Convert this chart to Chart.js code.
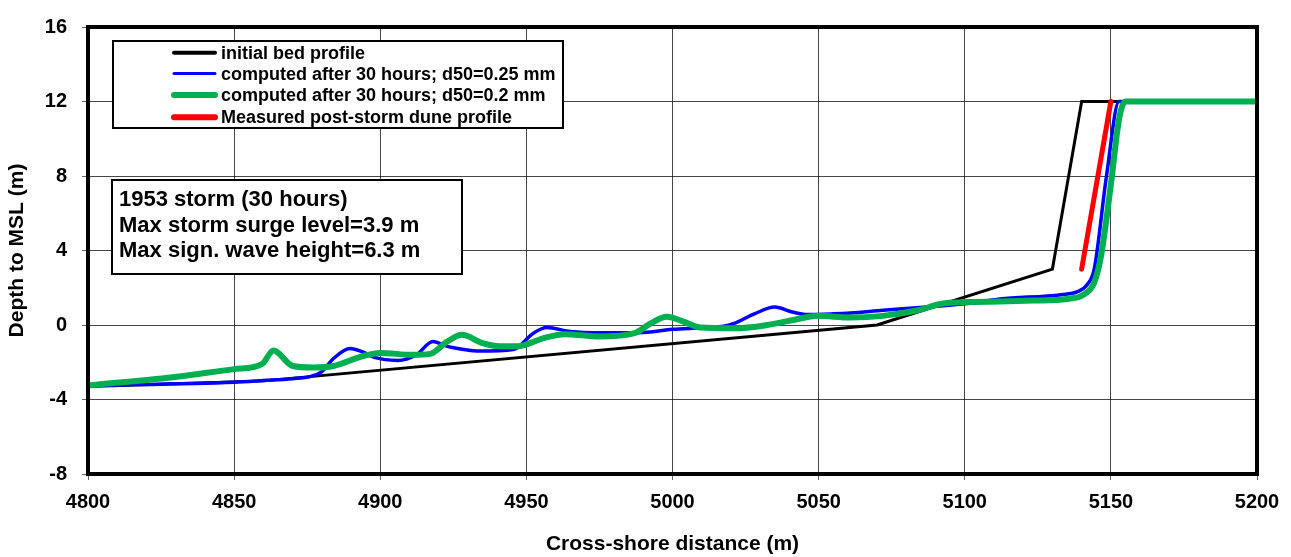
<!DOCTYPE html>
<html>
<head>
<meta charset="utf-8">
<script src="https://cdn.jsdelivr.net/npm/chart.js@4/dist/chart.umd.min.js"></script>
<style>
html,body{margin:0;padding:0;background:#fff;}
#wrap{width:1291px;height:557px;}
</style>
</head>
<body>
<div id="wrap"><canvas id="c" width="1291" height="557"></canvas></div>
<script>
// ---- data ----
const xTicks = [4800, 4850, 4900, 4950, 5000, 5050, 5100, 5150, 5200];
const yTicks = [-8, -4, 0, 4, 8, 12, 16];

const initialX = [4800, 4830, 4860, 5070, 5130, 5140, 5200];
const initialY = [-3.3, -3.15, -3.0, 0.0, 3.0, 12.0, 12.0];

const d025X = [4800, 4850, 4860, 4870, 4876, 4880, 4884, 4889.7, 4894, 4898, 4906, 4912.5, 4918, 4923, 4928, 4934, 4945.5, 4952.4, 4957, 4965, 4975, 4990, 5000, 5010, 5018, 5021, 5028, 5035, 5041, 5046, 5055, 5061, 5072, 5087, 5100, 5112, 5133, 5138.6, 5142, 5144.3, 5148.5, 5152.8, 5200];
const d025Y = [-3.25, -3.07, -2.98, -2.88, -2.77, -2.5, -1.8, -1.26, -1.45, -1.74, -1.9, -1.58, -0.88, -1.15, -1.3, -1.4, -1.32, -0.44, -0.14, -0.35, -0.42, -0.4, -0.23, -0.15, -0.05, 0.08, 0.6, 0.96, 0.7, 0.56, 0.6, 0.65, 0.79, 0.96, 1.14, 1.4, 1.63, 1.79, 2.19, 3.0, 8.0, 12.0, 12.0];

const d020X = [4800, 4829, 4850, 4859.5, 4863.5, 4870, 4877, 4884, 4894, 4900, 4911, 4917, 4923, 4928, 4935, 4941, 4947, 4956, 4963, 4975, 4987, 4992.5, 4998, 5004, 5009.6, 5021, 5032.4, 5043.8, 5049.5, 5061, 5072, 5084, 5092, 5101, 5112, 5123.6, 5135, 5141, 5144.3, 5146.6, 5150, 5152.8, 5155, 5200];
const d020Y = [-3.25, -2.8, -2.37, -2.1, -1.37, -2.2, -2.28, -2.2, -1.67, -1.5, -1.6, -1.55, -0.88, -0.53, -0.97, -1.14, -1.14, -0.7, -0.49, -0.62, -0.44, 0.08, 0.44, 0.17, -0.14, -0.18, 0.0, 0.35, 0.49, 0.4, 0.49, 0.79, 1.14, 1.23, 1.26, 1.31, 1.4, 1.66, 2.28, 3.68, 7.54, 11.05, 12.0, 12.0];

const measuredX = [5140, 5150];
const measuredY = [3.0, 12.0];

const seriesLabels = [
  "initial bed profile",
  "computed after 30 hours; d50=0.25 mm",
  "computed after 30 hours; d50=0.2 mm",
  "Measured post-storm dune profile"
];
const infoLines = ["1953 storm (30 hours)", "Max storm surge level=3.9 m", "Max sign. wave height=6.3 m"];

// ---- build chart ----
const FONT = '"Liberation Sans", Arial, sans-serif';
const pts = (xs, ys) => xs.map((x, i) => ({x: x, y: ys[i]}));

const frameAndAnnotations = {
  id: 'frameAndAnnotations',
  afterDatasetsDraw(chart) {
    const ctx = chart.ctx, a = chart.chartArea;
    ctx.save();
    ctx.strokeStyle = '#000';
    ctx.lineWidth = 4;
    ctx.strokeRect(a.left, a.top, a.right - a.left, a.bottom - a.top);
    ctx.restore();
  },
  afterDraw(chart) {
    const ctx = chart.ctx;
    ctx.save();
    // legend box
    const lx = 113, ly = 41, lw = 450, lh = 87;
    ctx.fillStyle = '#fff';
    ctx.fillRect(lx, ly, lw, lh);
    ctx.strokeStyle = '#000';
    ctx.lineWidth = 2;
    ctx.strokeRect(lx, ly, lw, lh);
    const rows = [52.7, 73.6, 95, 117.2];
    const ds = chart.data.datasets;
    [0, 1, 2, 3].forEach((di, k) => {
      const d = ds[di];
      ctx.beginPath();
      ctx.strokeStyle = d.borderColor;
      ctx.lineWidth = d.legendWidth;
      ctx.lineCap = 'round';
      ctx.moveTo(174, rows[k]);
      ctx.lineTo(215, rows[k]);
      ctx.stroke();
      ctx.fillStyle = '#000';
      ctx.font = 'bold 18px ' + FONT;
      ctx.textBaseline = 'middle';
      ctx.textAlign = 'left';
      ctx.fillText(d.label, 221, rows[k] + 1);
    });
    // info box
    const bx = 112, by = 180, bw = 350, bh = 94;
    ctx.fillStyle = '#fff';
    ctx.fillRect(bx, by, bw, bh);
    ctx.strokeStyle = '#000';
    ctx.lineWidth = 2;
    ctx.strokeRect(bx, by, bw, bh);
    ctx.fillStyle = '#000';
    ctx.font = 'bold 22px ' + FONT;
    ctx.textBaseline = 'alphabetic';
    const base = [206, 231.5, 257];
    infoLines.forEach((t, i) => ctx.fillText(t, 119, base[i]));
    ctx.restore();
  }
};

const chart = new Chart(document.getElementById('c'), {
  type: 'scatter',
  data: {
    datasets: [
      {label: seriesLabels[0], data: pts(initialX, initialY), borderColor: '#000000', borderWidth: 3, legendWidth: 4, showLine: true, pointRadius: 0, tension: 0, order: 4},
      {label: seriesLabels[1], data: pts(d025X, d025Y), borderColor: '#0000ff', borderWidth: 3.5, legendWidth: 3, showLine: true, pointRadius: 0, cubicInterpolationMode: 'monotone', order: 3},
      {label: seriesLabels[2], data: pts(d020X, d020Y), borderColor: '#00b050', borderWidth: 6, legendWidth: 6, showLine: true, pointRadius: 0, cubicInterpolationMode: 'monotone', borderJoinStyle: 'round', order: 2},
      {label: seriesLabels[3], data: pts(measuredX, measuredY), borderColor: '#ff0000', borderWidth: 5, legendWidth: 6, showLine: true, pointRadius: 0, borderCapStyle: 'round', order: 1}
    ]
  },
  options: {
    responsive: false,
    animation: false,
    devicePixelRatio: 1,
    layout: {padding: {top: 20, right: 34, left: 0, bottom: 0}},
    plugins: {legend: {display: false}, tooltip: {enabled: false}},
    scales: {
      x: {
        type: 'linear', min: xTicks[0], max: xTicks[xTicks.length - 1],
        afterBuildTicks: (s) => { s.ticks = xTicks.map(v => ({value: v})); },
        afterFit: (s) => { s.height = 83; },
        ticks: {color: '#000', font: {family: FONT, size: 20, weight: 'bold'}, padding: 10, maxRotation: 0, autoSkip: false,
                callback: (v) => String(v)},
        grid: {color: 'rgba(0,0,0,0.72)', lineWidth: 1, tickLength: 6, tickColor: 'rgba(0,0,0,0.6)'},
        border: {display: false},
        title: {display: true, text: 'Cross-shore distance (m)', color: '#000', font: {family: FONT, size: 21, weight: 'bold'}, padding: {top: 0, bottom: 0}}
      },
      y: {
        type: 'linear', min: yTicks[0], max: yTicks[yTicks.length - 1],
        afterBuildTicks: (s) => { s.ticks = yTicks.map(v => ({value: v})); },
        afterFit: (s) => { s.width = 88; },
        ticks: {color: '#000', font: {family: FONT, size: 20, weight: 'bold'}, padding: 15, autoSkip: false,
                callback: (v) => String(v)},
        grid: {color: 'rgba(0,0,0,0.72)', lineWidth: 1, tickLength: 6, tickColor: 'rgba(0,0,0,0.6)'},
        border: {display: false},
        title: {display: true, text: 'Depth to MSL (m)', color: '#000', font: {family: FONT, size: 21, weight: 'bold'}, padding: {top: 5, bottom: 0}}
      }
    }
  },
  plugins: [frameAndAnnotations]
});
</script>
</body>
</html>
